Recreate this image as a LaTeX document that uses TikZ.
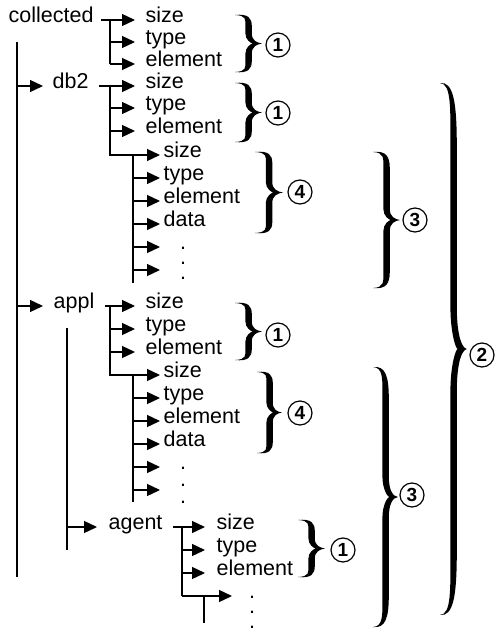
\documentclass[tikz,border=0pt]{standalone}
\usepackage{fontspec}
\setmainfont{Liberation Sans}
\usetikzlibrary{arrows.meta}

% filled curly brace: left x, top y, bottom y, tip x
\newcommand\curly[4]{%
  \pgfmathsetmacro\cA{#1}%
  \pgfmathsetmacro\cP{#4}%
  \pgfmathsetmacro\cS{(#1+#4)/2}%
  \pgfmathsetmacro\cT{#2}%
  \pgfmathsetmacro\cB{#3}%
  \pgfmathsetmacro\cM{(#2+#3)/2}%
  \pgfmathsetmacro\cR{max(11,0.12*(#3-#2))}%
  \pgfmathsetmacro\cQ{max(10,0.08*(#3-#2))}%
  \pgfmathsetmacro\cN{\cS+0.3*(\cP-\cS)}%
  \fill (\cA,\cT)
    .. controls (\cS,\cT-1.5) and (\cS+3.3,\cT+0.3*\cR) .. (\cS+3.3,\cT+\cR)
    -- (\cS+3.3,\cM-\cQ)
    .. controls (\cS+3.3,\cM-0.3*\cQ) and (\cP-5,\cM-0.7) .. (\cP,\cM)
    .. controls (\cP-5,\cM+0.7) and (\cS+3.3,\cM+0.3*\cQ) .. (\cS+3.3,\cM+\cQ)
    -- (\cS+3.3,\cB-\cR)
    .. controls (\cS+3.3,\cB-0.3*\cR) and (\cS,\cB+1.5) .. (\cA,\cB)
    .. controls (\cS-2,\cB-0.6) and (\cS-3.1,\cB-0.4*\cR) .. (\cS-3.1,\cB-\cR)
    -- (\cS-3.1,\cM+\cQ)
    .. controls (\cS-3.1,\cM+0.4*\cQ) and (\cN-2,\cM+0.5) .. (\cN,\cM)
    .. controls (\cN-2,\cM-0.5) and (\cS-3.1,\cM-0.4*\cQ) .. (\cS-3.1,\cM-\cQ)
    -- (\cS-3.1,\cT+\cR)
    .. controls (\cS-3.1,\cT+0.4*\cR) and (\cS-2,\cT+0.6) .. cycle;
}

\begin{document}
\begin{tikzpicture}[x=1pt, y=-1pt, line width=1.3pt,
  leaf/.style={anchor=mid west, inner sep=0pt, font=\fontsize{21.5}{24}\selectfont},
  arr/.style={-{Triangle[length=13pt,width=12pt]}},
  vdot/.style={anchor=base, inner sep=0pt, font=\fontsize{21.5}{24}\selectfont},
  num/.style={circle, draw, line width=1.2pt, minimum size=24pt, inner sep=0pt,
              font=\bfseries\fontsize{19}{19}\selectfont}]
\useasboundingbox (0,0) rectangle (498,632);

\node[leaf] (collected) at (8,20) {collected};
\node[leaf] (sizeA) at (145,20) {size};
\node[leaf] (typeA) at (145,42) {type};
\node[leaf] (elemA) at (145,64) {element};
\draw ([xshift=7pt]collected.mid east) -- (110,20) -- (110,64);
\draw[arr] (110,20) -- ([xshift=-10pt]sizeA.mid west);
\draw[arr] (110,42) -- ([xshift=-10pt]typeA.mid west);
\draw[arr] (110,64) -- ([xshift=-10pt]elemA.mid west);

\draw (17,42) -- (17,577);

\node[leaf] (db2) at (52,86) {db2};
\draw[arr] (17,86) -- ([xshift=-9pt]db2.mid west);
\node[leaf] (sizeB) at (145,86) {size};
\node[leaf] (typeB) at (145,108) {type};
\node[leaf] (elemB) at (145,131) {element};
\draw ([xshift=10pt]db2.mid east) -- (110,86) -- (110,155) -- (133,155) -- (133,283);
\draw[arr] (110,86) -- ([xshift=-10pt]sizeB.mid west);
\draw[arr] (110,108) -- ([xshift=-10pt]typeB.mid west);
\draw[arr] (110,131) -- ([xshift=-10pt]elemB.mid west);
\node[leaf] (sizeC) at (163,155) {size};
\node[leaf] (typeC) at (163,178) {type};
\node[leaf] (elemC) at (163,201) {element};
\node[leaf] (dataC) at (163,224) {data};
\coordinate (moreC1) at (160,247);
\coordinate (moreC2) at (160,270);
\draw[arr] (133,155) -- ([xshift=-3pt]sizeC.mid west);
\draw[arr] (133,178) -- ([xshift=-3pt]typeC.mid west);
\draw[arr] (133,201) -- ([xshift=-3pt]elemC.mid west);
\draw[arr] (133,224) -- ([xshift=-3pt]dataC.mid west);
\draw[arr] (133,247) -- (moreC1);
\draw[arr] (133,270) -- (moreC2);
\foreach \y in {248,263,278} \node[vdot] at (183,\y+1.1) {.};

\node[leaf] (appl) at (53,306) {appl};
\draw[arr] (17,306) -- ([xshift=-10pt]appl.mid west);
\node[leaf] (sizeD) at (145,306) {size};
\node[leaf] (typeD) at (145,329) {type};
\node[leaf] (elemD) at (145,352) {element};
\draw ([xshift=10pt]appl.mid east) -- (110,306) -- (110,375) -- (133,375) -- (133,502);
\draw[arr] (110,306) -- ([xshift=-10pt]sizeD.mid west);
\draw[arr] (110,329) -- ([xshift=-10pt]typeD.mid west);
\draw[arr] (110,352) -- ([xshift=-10pt]elemD.mid west);
\node[leaf] (sizeE) at (163,375) {size};
\node[leaf] (typeE) at (163,398) {type};
\node[leaf] (elemE) at (163,421) {element};
\node[leaf] (dataE) at (163,444) {data};
\coordinate (moreE1) at (160,467);
\coordinate (moreE2) at (160,490);
\draw[arr] (133,375) -- ([xshift=-3pt]sizeE.mid west);
\draw[arr] (133,398) -- ([xshift=-3pt]typeE.mid west);
\draw[arr] (133,421) -- ([xshift=-3pt]elemE.mid west);
\draw[arr] (133,444) -- ([xshift=-3pt]dataE.mid west);
\draw[arr] (133,467) -- (moreE1);
\draw[arr] (133,490) -- (moreE2);
\foreach \y in {468,485,502} \node[vdot] at (183,\y+1.1) {.};

\draw (67,328) -- (67,550);
\node[leaf] (agent) at (108,527) {agent};
\draw[arr] (67,527) -- ([xshift=-11pt]agent.mid west);
\node[leaf] (sizeF) at (216,527) {size};
\node[leaf] (typeF) at (216,550) {type};
\node[leaf] (elemF) at (216,573) {element};
\coordinate (moreF) at (232,596);
\draw ([xshift=10pt]agent.mid east) -- (182,527) -- (182,596);
\draw[arr] (182,527) -- ([xshift=-11pt]sizeF.mid west);
\draw[arr] (182,550) -- ([xshift=-11pt]typeF.mid west);
\draw[arr] (182,573) -- ([xshift=-11pt]elemF.mid west);
\draw[arr] (182,596) -- (moreF);
\draw (204,596) -- (204,623);
\foreach \y in {597,612,627} \node[vdot] at (252,\y+1.1) {.};

% braces
\curly{235}{15}{72}{262}
\node[num] (oneA) at (278,45) {1};
\curly{235}{83}{142}{262}
\node[num] (oneB) at (278,113) {1};
\curly{255}{152}{233}{283}
\node[num] (fourA) at (300,192) {4};
\curly{373}{152}{288}{400}
\node[num] (threeA) at (415,220) {3};
\curly{440}{83}{615}{467}
\node[num] (two) at (482,355) {2};
\curly{235}{303}{360}{262}
\node[num] (oneC) at (278,335) {1};
\curly{257}{372}{453}{282}
\node[num] (fourB) at (300,413) {4};
\curly{373}{367}{627}{398}
\node[num] (threeB) at (412,495) {3};
\curly{298}{520}{577}{325}
\node[num] (oneD) at (343,550) {1};
\end{tikzpicture}
\end{document}
